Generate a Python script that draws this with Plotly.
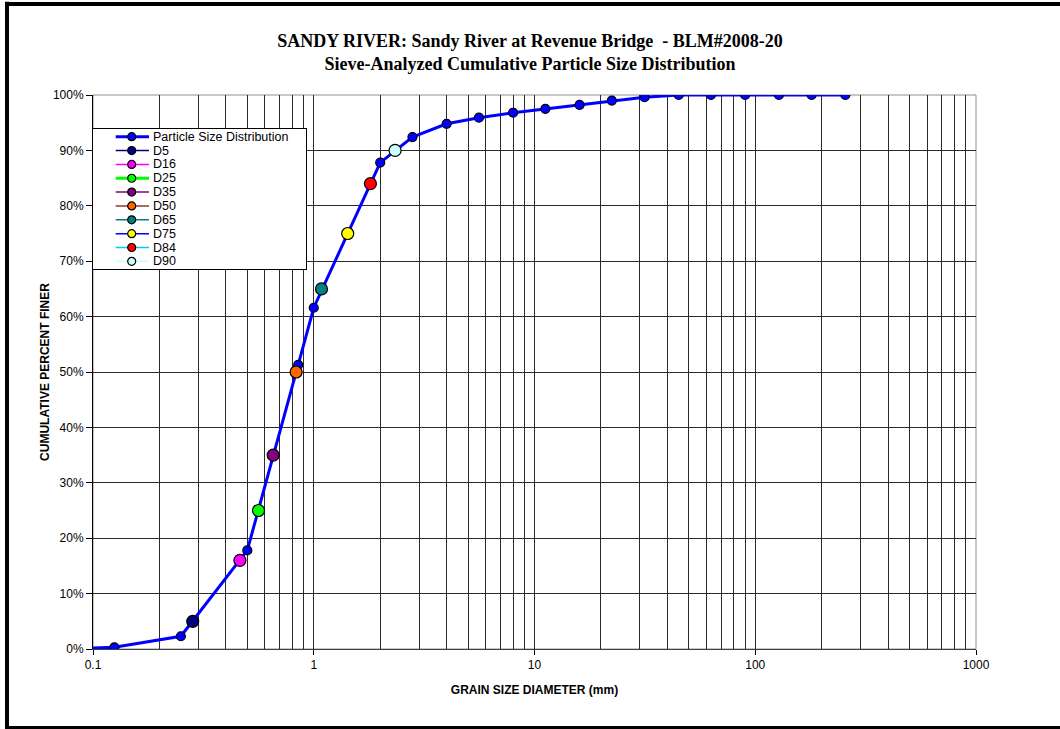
import plotly.graph_objects as go

# Sieve sizes (mm) and cumulative percent finer
sieve_mm = [0.063, 0.125, 0.25, 0.5, 0.85, 1.0, 2.0, 2.8, 4.0, 5.6, 8.0, 11.2,
            16, 22.4, 31.5, 45, 63, 90, 128, 180, 256]
pct_finer = [0.0, 0.3, 2.3, 17.8, 51.3, 61.6, 87.8, 92.4, 94.8, 95.9, 96.8, 97.5,
             98.2, 99.0, 99.6, 100, 100, 100, 100, 100, 100]

# Characteristic grain sizes
d_names = ["D5", "D16", "D25", "D35", "D50", "D65", "D75", "D84", "D90"]
d_pct = [5, 16, 25, 35, 50, 65, 75, 84, 90]
d_mm = [0.283, 0.463, 0.562, 0.655, 0.832, 1.084, 1.425, 1.806, 2.336]

d_fill = ["#000080", "#FF00FF", "#00FF00", "#800080", "#FF6600",
          "#008080", "#FFFF00", "#FF0000", "#CCFFFF"]
d_line = ["#000080", "#FF00FF", "#00FF00", "#800080", "#993333",
          "#008080", "#0000FF", "#00CCFF", "#CCFFFF"]
d_line_w = [1.5, 1.5, 3, 1.5, 1.5, 1.5, 1.5, 1.5, 1.5]

x_tick_vals = [0.1, 1, 10, 100, 1000]
x_tick_text = ["0.1", "1", "10", "100", "1000"]
y_tick_vals = list(range(0, 101, 10))
y_tick_text = [f"{v}%" for v in y_tick_vals]

FONT = "Liberation Sans, Arial, sans-serif"
PSD_BLUE = "#0000FF"

fig = go.Figure()

# Main distribution curve
fig.add_trace(go.Scatter(
    x=sieve_mm, y=pct_finer, mode="lines+markers",
    line=dict(color=PSD_BLUE, width=3),
    marker=dict(size=9, color=PSD_BLUE, line=dict(color="black", width=1.2)),
    name="Particle Size Distribution", showlegend=False,
))

# D-values
for name, mm, p, fc in zip(d_names, d_mm, d_pct, d_fill):
    fig.add_trace(go.Scatter(
        x=[mm], y=[p], mode="markers",
        marker=dict(size=12, color=fc, line=dict(color="black", width=1.2)),
        name=name, showlegend=False,
    ))

# Legend drawn on an inset axis
leg_names = ["Particle Size Distribution"] + d_names
leg_fill = [PSD_BLUE] + d_fill
leg_line = [PSD_BLUE] + d_line
leg_w = [3] + d_line_w
row_h = 13.85
for i, (nm, fc, lc, lw) in enumerate(zip(leg_names, leg_fill, leg_line, leg_w)):
    yc = 7.7 + i * row_h
    fig.add_trace(go.Scatter(
        x=[22.7, 56], y=[yc, yc], mode="lines", xaxis="x2", yaxis="y2",
        line=dict(color=lc, width=lw), showlegend=False, hoverinfo="skip",
    ))
    fig.add_trace(go.Scatter(
        x=[38.7], y=[yc], mode="markers", xaxis="x2", yaxis="y2",
        marker=dict(size=8, color=fc, line=dict(color="black", width=1.2)),
        showlegend=False, hoverinfo="skip",
    ))
    fig.add_annotation(
        x=57.5, y=yc, xref="x2", yref="y2", text=nm, showarrow=False,
        xanchor="left", yanchor="middle",
        font=dict(family=FONT, size=12.5, color="black"),
    )

minor_vals = [m * 10 ** e for e in range(-1, 3) for m in range(2, 10)]
grid_col = "#2a2a2a"

# outer frame edges in paper units (left, top and bottom only)
fx0 = (7 - 93) / 883
fx1 = (1120 - 93) / 883
fy0 = (649 - 728) / 554
fy1 = (649 - 4) / 554
frame = dict(color="black", width=4)

fig.update_layout(
    width=1060, height=729,
    margin=dict(l=93, r=84, t=95, b=80),
    paper_bgcolor="white", plot_bgcolor="white",
    font=dict(family=FONT, size=12, color="black"),
    title=dict(
        text="<b>SANDY RIVER: Sandy River at Revenue Bridge &nbsp;- BLM#2008-20<br>"
             "Sieve-Analyzed Cumulative Particle Size Distribution</b>",
        x=0.5, xref="container", xanchor="center",
        y=1 - 47 / 729, yref="container", yanchor="middle",
        font=dict(family="Liberation Serif, Times New Roman, serif", size=18, color="black"),
    ),
    xaxis=dict(
        type="log", range=[-1, 3],
        tickvals=x_tick_vals, ticktext=x_tick_text,
        ticks="outside", ticklen=5, tickcolor="black",
        showgrid=True, gridcolor=grid_col, gridwidth=1,
        minor=dict(tickvals=minor_vals, showgrid=True, gridcolor=grid_col,
                   gridwidth=1, ticks=""),
        showline=True, linecolor="#404040", linewidth=1,
        zeroline=False,
        title=dict(text="<b>GRAIN SIZE DIAMETER (mm)</b>", standoff=14,
                   font=dict(family=FONT, size=12)),
        tickfont=dict(family=FONT, size=12),
    ),
    yaxis=dict(
        range=[0, 100],
        tickvals=y_tick_vals, ticktext=y_tick_text,
        ticks="outside", ticklen=6, tickcolor="black",
        showgrid=True, gridcolor=grid_col, gridwidth=1,
        showline=True, linecolor="black", linewidth=1,
        zeroline=False,
        title=dict(text="<b>CUMULATIVE PERCENT FINER</b>", standoff=0,
                   font=dict(family=FONT, size=12)),
        tickfont=dict(family=FONT, size=12),
    ),
    xaxis2=dict(
        domain=[0, 213 / 883], anchor="y2", range=[0, 213],
        showgrid=False, zeroline=False, showticklabels=False, ticks="",
        showline=True, mirror=True, linecolor="black", linewidth=1,
        fixedrange=True,
    ),
    yaxis2=dict(
        domain=[(649 - 269) / 554, (649 - 129) / 554], anchor="x2", range=[140, 0],
        showgrid=False, zeroline=False, showticklabels=False, ticks="",
        showline=True, mirror=True, linecolor="black", linewidth=1,
        fixedrange=True,
    ),
    shapes=[
        # grey plot-area frame
        dict(type="rect", xref="paper", yref="paper", x0=0, x1=1, y0=0, y1=1,
             line=dict(color="#909090", width=1), layer="below"),
        # heavy outer chart frame
        dict(type="line", xref="paper", yref="paper", x0=fx0, x1=fx0, y0=fy0 - 0.004,
             y1=fy1 + 0.004, line=frame, layer="above"),
        dict(type="line", xref="paper", yref="paper", x0=fx0, x1=fx1, y0=fy1, y1=fy1,
             line=frame, layer="above"),
        dict(type="line", xref="paper", yref="paper", x0=fx0, x1=fx1, y0=fy0, y1=fy0,
             line=frame, layer="above"),
    ],
)

fig.write_html("out.html")
